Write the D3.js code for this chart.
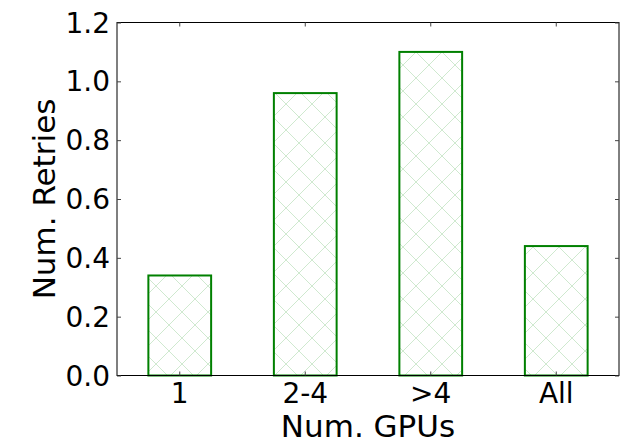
<!DOCTYPE html>
<html>
<head>
<meta charset="utf-8">
<script src="https://cdn.jsdelivr.net/npm/d3@7"></script>
<style>
  body { margin: 0; background: #fff; }
  text { font-family: "DejaVu Sans", sans-serif; fill: #000; }
</style>
</head>
<body>
<div id="chart"></div>
<script>
const categories = ["1", "2-4", ">4", "All"];
const retries = [0.34, 0.96, 1.10, 0.44];
const yTicks = [0, 0.2, 0.4, 0.6, 0.8, 1.0, 1.2];

const width = 633, height = 445;
const margin = {left: 117, right: 14, top: 22.5, bottom: 69.5};

const svg = d3.select("#chart")
  .append("svg")
  .attr("width", width)
  .attr("height", height);

// crosshatch like matplotlib 'x'
const hs = 26;
const pat = svg.append("defs").append("pattern")
  .attr("id", "hatch")
  .attr("patternUnits", "userSpaceOnUse")
  .attr("width", hs)
  .attr("height", hs);
pat.append("rect").attr("width", hs).attr("height", hs).attr("fill", "#fff");
pat.append("path")
  .attr("d", `M0,0L${hs},${hs}M${hs},0L0,${hs}`)
  .attr("stroke", "#cfe9cf")
  .attr("stroke-width", 1);

const x = d3.scaleBand()
  .domain(categories)
  .range([margin.left, width - margin.right])
  .paddingInner(0.5)
  .paddingOuter(0.25);

const y = d3.scaleLinear()
  .domain([0, 1.2])
  .range([height - margin.bottom, margin.top]);

svg.append("g")
  .selectAll("rect")
  .data(retries)
  .join("rect")
  .attr("x", (d, i) => x(categories[i]))
  .attr("y", d => y(d))
  .attr("width", x.bandwidth())
  .attr("height", d => y(0) - y(d))
  .attr("fill", "url(#hatch)")
  .attr("stroke", "#008000")
  .attr("stroke-width", 2);

// frame
svg.append("rect")
  .attr("x", margin.left)
  .attr("y", margin.top)
  .attr("width", width - margin.left - margin.right)
  .attr("height", height - margin.top - margin.bottom)
  .attr("fill", "none")
  .attr("stroke", "#000")
  .attr("stroke-width", 1);

const tickLen = 4;
const axisOpts = g => g.call(s => s.select(".domain").remove())
  .call(s => s.selectAll(".tick line").attr("stroke", "#444"));

svg.append("g")
  .attr("transform", `translate(${margin.left},0)`)
  .call(d3.axisRight(y).tickValues(yTicks).tickSize(tickLen).tickFormat(""))
  .call(axisOpts);
svg.append("g")
  .attr("transform", `translate(${width - margin.right},0)`)
  .call(d3.axisLeft(y).tickValues(yTicks).tickSize(tickLen).tickFormat(""))
  .call(axisOpts);
svg.append("g")
  .attr("transform", `translate(0,${height - margin.bottom})`)
  .call(d3.axisTop(x).tickSize(tickLen).tickFormat(""))
  .call(axisOpts);
svg.append("g")
  .attr("transform", `translate(0,${margin.top})`)
  .call(d3.axisBottom(x).tickSize(tickLen).tickFormat(""))
  .call(axisOpts);

// tick labels
svg.append("g")
  .selectAll("text")
  .data(yTicks)
  .join("text")
  .attr("x", margin.left - 7)
  .attr("y", d => y(d))
  .attr("dy", "0.36em")
  .attr("text-anchor", "end")
  .attr("font-size", 28)
  .text(d => d.toFixed(1));

svg.append("g")
  .selectAll("text")
  .data(categories)
  .join("text")
  .attr("x", d => x(d) + x.bandwidth() / 2)
  .attr("y", 403)
  .attr("text-anchor", "middle")
  .attr("font-size", 28)
  .text(d => d);

svg.append("text")
  .attr("x", (margin.left + width - margin.right) / 2)
  .attr("y", 437)
  .attr("text-anchor", "middle")
  .attr("font-size", 31)
  .text("Num. GPUs");

svg.append("text")
  .attr("transform", `translate(55,${(margin.top + height - margin.bottom) / 2}) rotate(-90)`)
  .attr("text-anchor", "middle")
  .attr("font-size", 31)
  .text("Num. Retries");
</script>
</body>
</html>
